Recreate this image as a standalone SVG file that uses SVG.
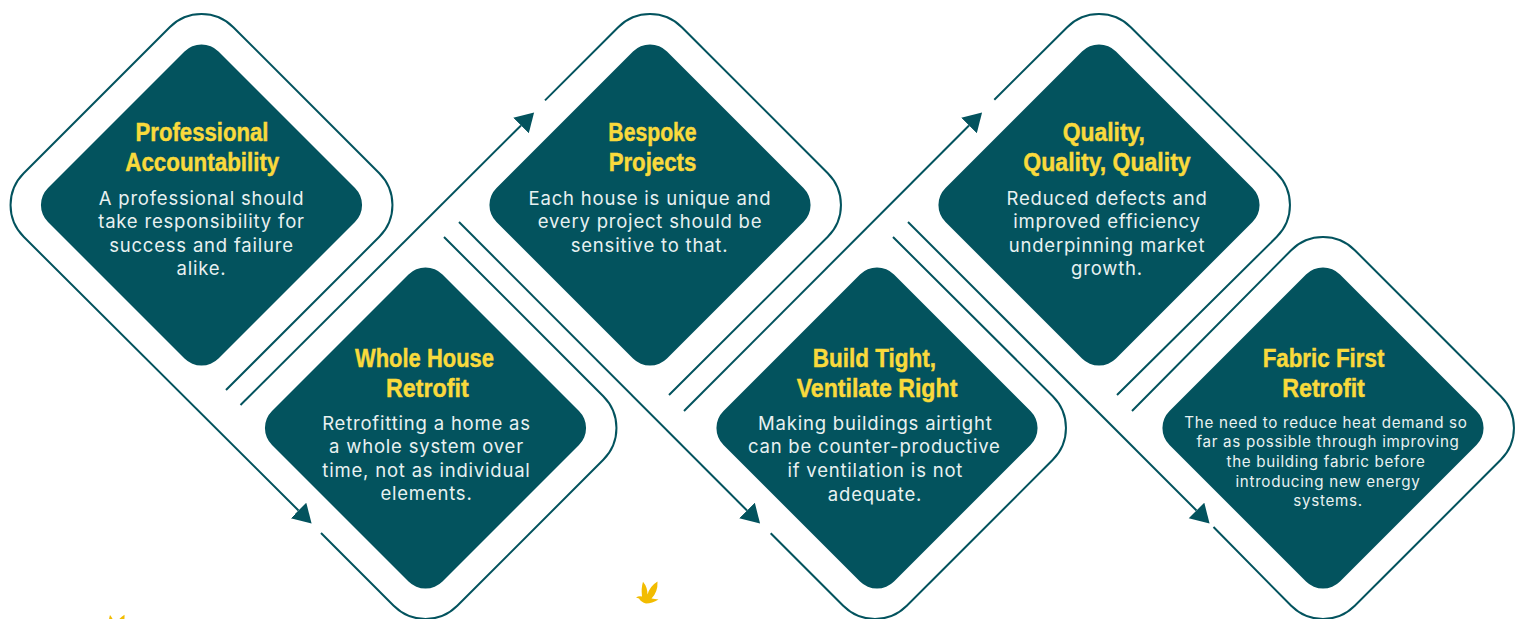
<svg xmlns="http://www.w3.org/2000/svg" width="1523" height="619" viewBox="0 0 1523 619">
<style>
.bg{fill:#fff}
.d{fill:#03535E}
.c{fill:none;stroke:#03535E;stroke-width:2}
.h{font-family:"Liberation Sans",Arial,sans-serif;font-weight:700;font-size:26.5px;fill:#F9DA3C;stroke:#F9DA3C;stroke-width:.45px;text-anchor:middle}
.b{font-family:"Inter","Liberation Sans",Arial,sans-serif;font-size:18.5px;letter-spacing:.8px;fill:#E8F1F1;text-anchor:middle}
.b.s{font-size:15.2px;letter-spacing:.7px}
.bird{fill:#F2BC00}
</style>
<defs>
<marker id="ah" markerUnits="userSpaceOnUse" markerWidth="20" markerHeight="24" refX="0" refY="11" orient="auto"><path d="M0,0L18.5,11L0,22Z" fill="#03535E"/></marker>
<path id="dm" d="M153.5,-17L17,-153.5A24 24 0 0 0-17,-153.5L-153.5,-17A24 24 0 0 0-153.5,17L-17,153.5A24 24 0 0 0 17,153.5L153.5,17A24 24 0 0 0 153.5,-17Z"/>
<path id="br" d="M636,597.500Q639,595.500 642,596.500Q641,588 643,581.700Q647.500,587 647.500,594.500Q650,586 657.500,581.500Q658,592 651.500,598.500L658.500,599.500Q652,603.500 646,603.500Q641,602 639,598.500Z"/>
</defs>
<rect class="bg" width="1523" height="619"/>
<g id="connectors">
<path class="c" d="M226,390L379.3,236.8a45 45 0 0 0 0,-63.6L233.3,27.2a45 45 0 0 0-63.6,0L23.7,173.2a45 45 0 0 0 0,63.6L298.5,510.5" marker-end="url(#ah)"/>
<path class="c" d="M321,533L393.7,605.8a45 45 0 0 0 63.6,0L603.3,459.8a45 45 0 0 0 0,-63.6L444,237"/>
<path class="c" d="M240.5,405L521,125.5" marker-end="url(#ah)"/>
<path class="c" d="M669,395L827.8,236.8a45 45 0 0 0 0,-63.6L681.8,27.2a45 45 0 0 0-63.6,0L545,100.4"/>
<path class="c" d="M459,222L747,510.5" marker-end="url(#ah)"/>
<path class="c" d="M770.7,533.3L843.2,605.8a45 45 0 0 0 63.6,0L1052.8,459.8a45 45 0 0 0 0,-63.6L893,237"/>
<path class="c" d="M684,411L969,125.5" marker-end="url(#ah)"/>
<path class="c" d="M1117,395L1276.8,236.8a45 45 0 0 0 0,-63.6L1130.800,27.2a45 45 0 0 0-63.600,0L994.3,99.8"/>
<path class="c" d="M908,222L1196.500,510.500" marker-end="url(#ah)"/>
<path class="c" d="M1132,411L1291.2,250.2a45 45 0 0 1 63.600,0L1500.800,396.200a45 45 0 0 1 0,63.600L1354.800,605.800a45 45 0 0 1-63.600,0L1213.500,527"/>
</g>
<g id="node-professional-accountability">
<use href="#dm" class="d" x="201.5" y="205"/>
<text class="h" x="202" y="141" textLength="133" lengthAdjust="spacingAndGlyphs">Professional</text><text class="h" x="202.300" y="171" textLength="154" lengthAdjust="spacingAndGlyphs">Accountability</text>
<text class="b" x="201.500" y="205">A professional should</text><text class="b" x="201.500" y="228">take responsibility for</text><text class="b" x="201.500" y="252">success and failure</text><text class="b" x="201.500" y="275">alike.</text>
</g>
<g id="node-whole-house-retrofit">
<use href="#dm" class="d" x="425.5" y="428"/>
<text class="h" x="424.500" y="367" textLength="139" lengthAdjust="spacingAndGlyphs">Whole House</text><text class="h" x="427.300" y="397" textLength="82.700" lengthAdjust="spacingAndGlyphs">Retrofit</text>
<text class="b" x="426.500" y="430">Retrofitting a home as</text><text class="b" x="426.500" y="453">a whole system over</text><text class="b" x="426.500" y="477">time, not as individual</text><text class="b" x="426.500" y="500">elements.</text>
</g>
<g id="node-bespoke-projects">
<use href="#dm" class="d" x="650" y="205"/>
<text class="h" x="652.500" y="141" textLength="88.300" lengthAdjust="spacingAndGlyphs">Bespoke</text><text class="h" x="652.500" y="171" textLength="87.700" lengthAdjust="spacingAndGlyphs">Projects</text>
<text class="b" x="650" y="205">Each house is unique and</text><text class="b" x="650" y="228">every project should be</text><text class="b" x="649.500" y="252">sensitive to that.</text>
</g>
<g id="node-build-tight">
<use href="#dm" class="d" x="877" y="428"/>
<text class="h" x="874.300" y="367" textLength="123.300" lengthAdjust="spacingAndGlyphs">Build Tight,</text><text class="h" x="877" y="397" textLength="160.700" lengthAdjust="spacingAndGlyphs">Ventilate Right</text>
<text class="b" x="875.300" y="430">Making buildings airtight</text><text class="b" x="874.300" y="453">can be counter-productive</text><text class="b" x="875.300" y="477">if ventilation is not</text><text class="b" x="875" y="500.500">adequate.</text>
</g>
<g id="node-quality">
<use href="#dm" class="d" x="1099" y="205"/>
<text class="h" x="1103.800" y="141" textLength="82.300" lengthAdjust="spacingAndGlyphs">Quality,</text><text class="h" x="1107" y="171" textLength="167.300" lengthAdjust="spacingAndGlyphs">Quality, Quality</text>
<text class="b" x="1107" y="205">Reduced defects and</text><text class="b" x="1107" y="228">improved efficiency</text><text class="b" x="1107" y="252">underpinning market</text><text class="b" x="1107" y="275">growth.</text>
</g>
<g id="node-fabric-first">
<use href="#dm" class="d" x="1323" y="428"/>
<text class="h" x="1323.500" y="367" textLength="121.700" lengthAdjust="spacingAndGlyphs">Fabric First</text><text class="h" x="1323.500" y="397" textLength="82.700" lengthAdjust="spacingAndGlyphs">Retrofit</text>
<text class="b s" x="1326" y="428">The need to reduce heat demand so</text><text class="b s" x="1328" y="447">far as possible through improving</text><text class="b s" x="1326" y="467">the building fabric before</text><text class="b s" x="1328" y="486.500">introducing new energy</text><text class="b s" x="1328" y="506">systems.</text>
</g>
<g id="birds">
<use href="#br" class="bird"/>
<use href="#br" class="bird" x="-533" y="33.3"/>
</g>
</svg>
